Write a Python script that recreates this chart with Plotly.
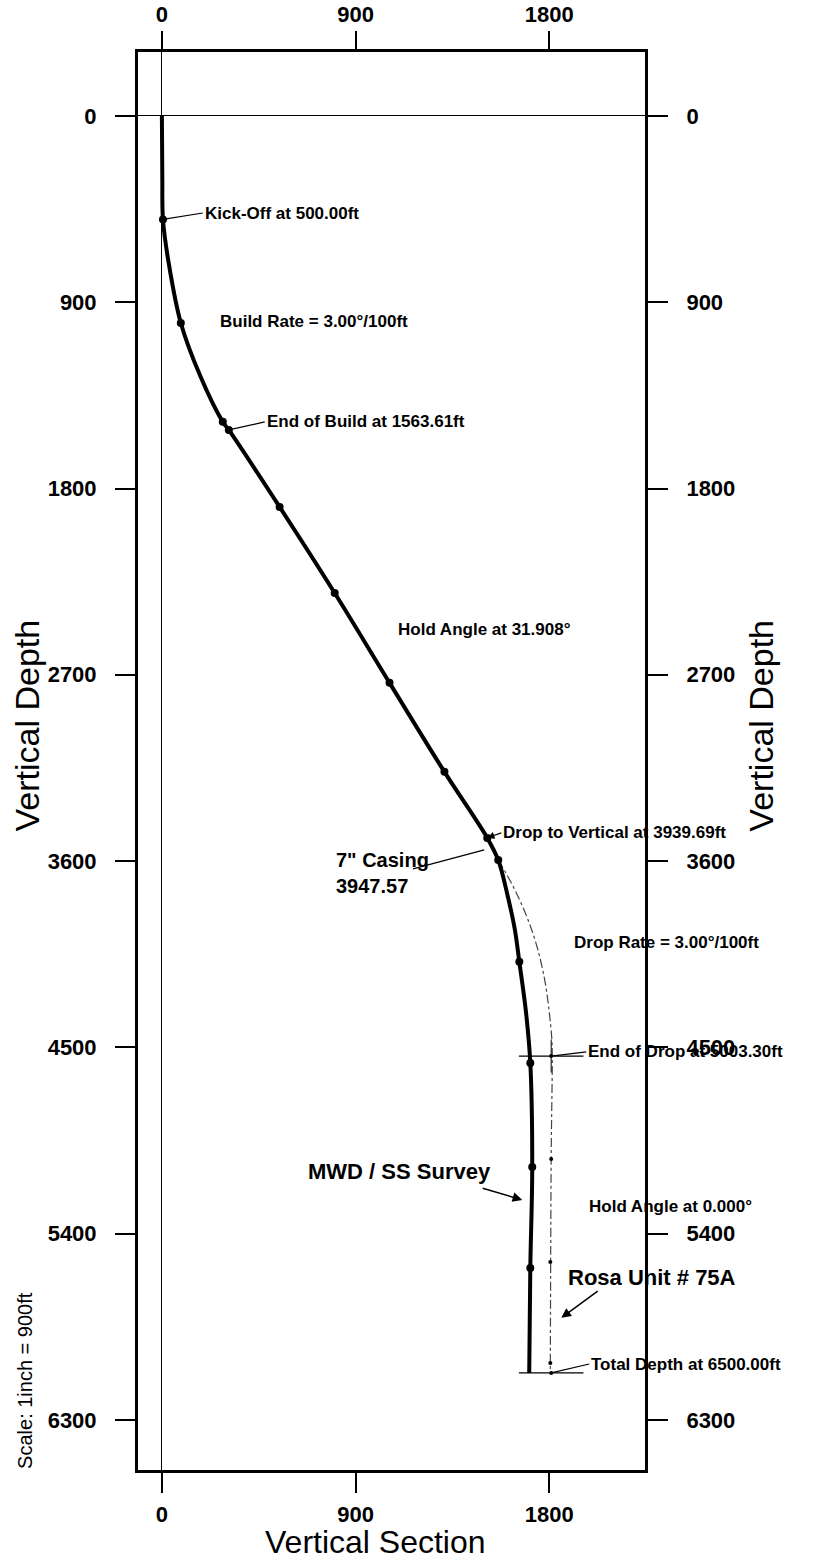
import plotly.graph_objects as go

# ---------------- data ----------------
# Actual survey (MWD / SS) – path and station markers: (vertical section, TVD)
survey_path_vs  = [0, 2, 5, 30, 88, 180, 283, 311, 547, 803, 1058, 1313, 1512, 1563, 1605, 1640, 1661, 1692, 1712, 1721, 1712, 1707]
survey_path_tvd = [0, 300, 500, 700, 1000, 1260, 1478, 1517, 1889, 2305, 2739, 3169, 3488, 3595, 3760, 3930, 4087, 4330, 4575, 5078, 5566, 6073]

station_vs  = [5, 88, 283, 311, 547, 803, 1058, 1313, 1512, 1563, 1661, 1712, 1721, 1712]
station_tvd = [500, 1000, 1478, 1517, 1889, 2305, 2739, 3169, 3488, 3595, 4087, 4575, 5078, 5566]

# Planned well path (Rosa Unit # 75A)
plan_vs  = [1563, 1600, 1650, 1700, 1745, 1780, 1800, 1812, 1814, 1809, 1805]
plan_tvd = [3595, 3660, 3760, 3880, 4020, 4180, 4330, 4460, 4546, 5039, 6073]
plan_mark_vs  = [1809, 1809, 1805, 1805, 1809]
plan_mark_tvd = [4542, 5039, 5537, 6025, 6073]

# target cross lines (end of drop, total depth)
target_tvd = [4542, 6073]
target_vs = 1809
target_half_width = 150

tick_vals = [0, 900, 1800]
depth_ticks = [0, 900, 1800, 2700, 3600, 4500, 5400, 6300]

x_range = [-111, 2245]
y_range = [6542, -309]

FONT = "Arial, Liberation Sans, sans-serif"

fig = go.Figure()

# planned path
fig.add_trace(go.Scatter(x=plan_vs, y=plan_tvd, mode="lines", line_shape="spline",
                         line=dict(color="#444", width=1.2, dash="dashdot"),
                         hoverinfo="skip", showlegend=False))
fig.add_trace(go.Scatter(x=plan_mark_vs, y=plan_mark_tvd, mode="markers",
                         marker=dict(color="black", size=4),
                         hoverinfo="skip", showlegend=False))

# target cross lines
for t in target_tvd:
    fig.add_shape(type="line", xref="x", yref="y",
                  x0=target_vs - target_half_width, x1=target_vs + target_half_width,
                  y0=t, y1=t, line=dict(color="black", width=1.2))
fig.add_shape(type="line", xref="x", yref="y", x0=target_vs, x1=target_vs,
              y0=target_tvd[0] - 80, y1=target_tvd[0] + 80,
              line=dict(color="black", width=1))

# survey path
fig.add_trace(go.Scatter(x=survey_path_vs, y=survey_path_tvd, mode="lines", line_shape="spline",
                         line=dict(color="black", width=4),
                         hoverinfo="skip", showlegend=False))
fig.add_trace(go.Scatter(x=station_vs, y=station_tvd, mode="markers",
                         marker=dict(color="black", size=8),
                         hoverinfo="skip", showlegend=False))

# dummy trace for the mirrored axes
fig.add_trace(go.Scatter(x=[None], y=[None], xaxis="x2", yaxis="y2",
                         hoverinfo="skip", showlegend=False))

tickfont = dict(family=FONT, size=22, color="black", weight="bold")
common_axis = dict(showline=True, linecolor="black", linewidth=3, ticks="outside",
                   tickwidth=2, tickcolor="black", showgrid=False,
                   tickfont=tickfont, automargin=False)

fig.update_layout(
    width=817, height=1558,
    margin=dict(l=138, r=172, t=52, b=88, autoexpand=False),
    paper_bgcolor="white", plot_bgcolor="white",
    showlegend=False,
    xaxis=dict(range=x_range, tickvals=tick_vals, zeroline=True, zerolinecolor="black",
               zerolinewidth=1, ticklen=20, ticklabelstandoff=3, **common_axis),
    xaxis2=dict(range=x_range, tickvals=tick_vals, overlaying="x", side="top",
                matches="x", zeroline=False, ticklen=18, ticklabelstandoff=0, **common_axis),
    yaxis=dict(range=y_range, tickvals=depth_ticks, zeroline=True, zerolinecolor="black",
               zerolinewidth=1, ticklen=20, ticklabelstandoff=14, **common_axis),
    yaxis2=dict(range=y_range, tickvals=depth_ticks, overlaying="y", side="right",
                matches="y", zeroline=False, ticklen=20, ticklabelstandoff=14, **common_axis),
)

ann_font = dict(family=FONT, size=17, color="black", weight="bold")
big_font = dict(family=FONT, size=22, color="black", weight="bold")

def label(text, x, y, font=ann_font, **kw):
    fig.add_annotation(text=text, x=x, y=y, xref="x", yref="y", showarrow=False,
                       xanchor="left", yanchor="middle", font=font, **kw)

def leader(text, px, py, tx, ty, font=ann_font, head=0):
    fig.add_annotation(text=text, x=px, y=py, ax=tx, ay=ty, xref="x", yref="y",
                       axref="x", ayref="y", showarrow=True, arrowhead=head,
                       arrowwidth=1.2, arrowcolor="black", arrowsize=1.2,
                       xanchor="left", yanchor="middle", font=font, standoff=0)

leader("Kick-Off at 500.00ft", 5, 500, 190, 469)
label("Build Rate = 3.00°/100ft", 260, 995)
leader("End of Build at 1563.61ft", 311, 1517, 478, 1478)
label("Hold Angle at 31.908°", 1090, 2483)
leader("Drop to Vertical at 3939.69ft", 1512, 3488, 1577, 3464, head=2)
label("7\" Casing<br>3947.57", 798, 3657, align="left",
      font=dict(family=FONT, size=20, color="black", weight="bold"))
fig.add_annotation(x=1498, y=3546, ax=1160, ay=3640, xref="x", yref="y", axref="x", ayref="y",
                   showarrow=True, arrowhead=0, arrowwidth=1.2, arrowcolor="black", text="")
label("Drop Rate = 3.00°/100ft", 1907, 3991)
leader("End of Drop at 5003.30ft", 1809, 4542, 1972, 4522)
label("MWD / SS Survey", 668, 5102, font=big_font)
fig.add_annotation(x=1675, y=5237, ax=1484, ay=5179, xref="x", yref="y", axref="x", ayref="y",
                   showarrow=True, arrowhead=2, arrowsize=1.3, arrowwidth=1.5, arrowcolor="black", text="")
label("Hold Angle at 0.000°", 1976, 5271)
label("Rosa Unit # 75A", 1879, 5614, font=big_font)
fig.add_annotation(x=1856, y=5807, ax=2032, ay=5672, xref="x", yref="y", axref="x", ayref="y",
                   showarrow=True, arrowhead=2, arrowsize=1.3, arrowwidth=1.5, arrowcolor="black", text="")
leader("Total Depth at 6500.00ft", 1809, 6073, 1986, 6030)

# axis titles
title_font = dict(family=FONT, size=34, color="black")
fig.add_annotation(text="Vertical Depth", xref="paper", yref="paper", x=-0.219, y=0.525,
                   xanchor="center", yanchor="middle",
                   textangle=-90, showarrow=False, font=title_font)
fig.add_annotation(text="Vertical Depth", xref="paper", yref="paper", x=1.227, y=0.525,
                   xanchor="center", yanchor="middle",
                   textangle=-90, showarrow=False, font=title_font)
fig.add_annotation(text="Vertical Section", xref="paper", yref="paper", x=0.4675, y=-0.051,
                   xanchor="center", yanchor="middle",
                   showarrow=False, font=dict(family=FONT, size=32, color="black"))
fig.add_annotation(text="Scale: 1inch = 900ft", xref="paper", yref="paper", x=-0.223, y=0.0635,
                   xanchor="center", yanchor="middle",
                   textangle=-90, showarrow=False, font=dict(family=FONT, size=20, color="black"))

fig.write_html("out.html", config={"displayModeBar": False},
               post_script="document.body.style.margin='0';")
